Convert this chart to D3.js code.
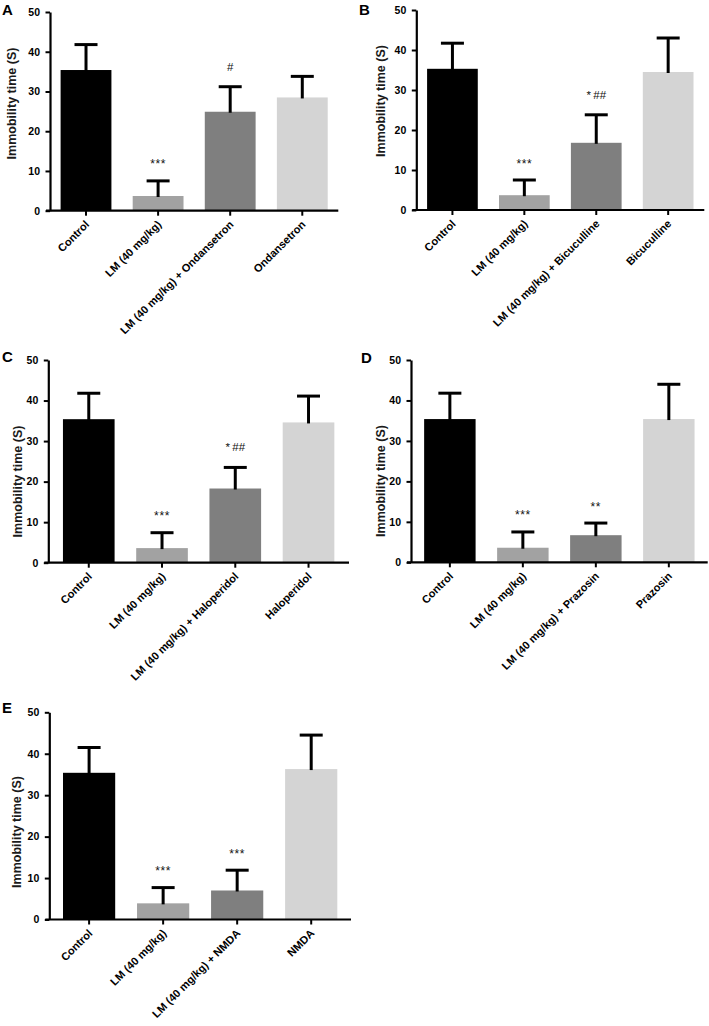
<!DOCTYPE html>
<html>
<head>
<meta charset="utf-8">
<script src="https://cdn.jsdelivr.net/npm/d3@7"></script>
<style>
  html, body { margin: 0; padding: 0; background: #fff; }
  svg { display: block; font-family: "Liberation Sans", Arial, sans-serif; }
</style>
</head>
<body>
<svg id="chart" width="709" height="1026"></svg>
<script>
// ---------- data ----------
const panelLetters = ["A", "B", "C", "D", "E"];
const drugs = ["Ondansetron", "Bicuculline", "Haloperidol", "Prazosin", "NMDA"];
const yTicks = [0, 10, 20, 30, 40, 50];

const meansA = [35.4, 3.7, 24.9, 28.5];
const errA   = [6.4, 3.8, 6.3, 5.3];
const annotA = ["", "***", "#", ""];

const meansB = [35.3, 3.7, 16.8, 34.5];
const errB   = [6.4, 3.8, 7.0, 8.5];
const annotB = ["", "***", "*\u2009##", ""];

const meansC = [35.4, 3.6, 18.3, 34.6];
const errC   = [6.4, 3.8, 5.2, 6.5];
const annotC = ["", "***", "*\u2009##", ""];

const meansD = [35.4, 3.6, 6.7, 35.4];
const errD   = [6.4, 3.9, 3.0, 8.6];
const annotD = ["", "***", "**", ""];

const meansE = [35.4, 3.9, 7.0, 36.3];
const errE   = [6.1, 3.8, 4.9, 8.2];
const annotE = ["", "***", "***", ""];

const barColors = ["#000000", "#a2a2a2", "#7f7f7f", "#d4d4d4"];

function categoriesFor(drug) {
  return ["Control", "LM (40 mg/kg)", "LM (40 mg/kg) + " + drug, drug];
}

// ---------- layout (positions only) ----------
const layout = [
  { x0: 50,    x1: 338.3, yTop: 12,    yBot: 210.7, po: 0.147, titleX: 16,  titleY: 103.5, letterX: 2,   letterY: 15 },
  { x0: 416.3, x1: 704.3, yTop: 10,    yBot: 210,   po: 0.15,  titleX: 385, titleY: 101,   letterX: 359, letterY: 15 },
  { x0: 48.3,  x1: 349,   yTop: 360,   yBot: 562.7, po: 0.2,   titleX: 22,  titleY: 481.5, letterX: 2,   letterY: 362 },
  { x0: 411,   x1: 707.7, yTop: 360,   yBot: 562.3, po: 0.18,  titleX: 385, titleY: 481,   letterX: 361, letterY: 362.5 },
  { x0: 49.3,  x1: 351,   yTop: 712.3, yBot: 919.5, po: 0.185, titleX: 21,  titleY: 832,   letterX: 2,   letterY: 712.5 }
];

const panelMeans = [meansA, meansB, meansC, meansD, meansE];
const panelErrs  = [errA, errB, errC, errD, errE];
const panelAnnot = [annotA, annotB, annotC, annotD, annotE];

const svg = d3.select("#chart");

panelLetters.forEach((letter, i) => {
  const L = layout[i];
  const cats = categoriesFor(drugs[i]);
  const rows = cats.map((c, k) => ({ cat: c, mean: panelMeans[i][k], err: panelErrs[i][k], ann: panelAnnot[i][k], color: barColors[k] }));

  const x = d3.scaleBand().domain(cats).range([L.x0, L.x1]).paddingInner(0.295).paddingOuter(L.po);
  const y = d3.scaleLinear().domain([0, 50]).range([L.yBot, L.yTop]);

  const g = svg.append("g");

  // bars
  g.selectAll("rect.bar").data(rows).join("rect")
    .attr("class", "bar")
    .attr("x", d => x(d.cat))
    .attr("width", x.bandwidth())
    .attr("y", d => y(d.mean))
    .attr("height", d => y(0) - y(d.mean))
    .attr("fill", d => d.color);

  // error bars (upper only)
  const capW = 23;
  g.selectAll("line.stem").data(rows).join("line")
    .attr("x1", d => x(d.cat) + x.bandwidth() / 2)
    .attr("x2", d => x(d.cat) + x.bandwidth() / 2)
    .attr("y1", d => y(d.mean) + 1)
    .attr("y2", d => y(d.mean + d.err))
    .attr("stroke", "#000").attr("stroke-width", 3);
  g.selectAll("line.cap").data(rows).join("line")
    .attr("x1", d => x(d.cat) + x.bandwidth() / 2 - capW / 2)
    .attr("x2", d => x(d.cat) + x.bandwidth() / 2 + capW / 2)
    .attr("y1", d => y(d.mean + d.err))
    .attr("y2", d => y(d.mean + d.err))
    .attr("stroke", "#000").attr("stroke-width", 3);

  // significance marks
  g.selectAll("text.ann").data(rows.filter(d => d.ann)).join("text")
    .attr("x", d => x(d.cat) + x.bandwidth() / 2)
    .attr("y", d => y(d.mean + d.err) - (d.ann.includes("#") ? 16 : 12.5))
    .attr("text-anchor", "middle")
    .attr("font-size", d => d.ann.includes("#") ? 11.5 : 12)
    .attr("letter-spacing", d => d.ann.includes("#") ? 0 : 0.6)
    .attr("fill", "#111")
    .text(d => d.ann);

  // y axis
  const yAxis = g.append("g")
    .attr("transform", `translate(${L.x0},0)`)
    .call(d3.axisLeft(y).tickValues(yTicks).tickSize(4.5).tickSizeOuter(0).tickPadding(5.5));
  yAxis.select(".domain").attr("stroke", "#000").attr("stroke-width", 2.2);
  yAxis.selectAll(".tick line").attr("stroke", "#000").attr("stroke-width", 2);
  yAxis.selectAll(".tick text")
    .attr("font-family", "Liberation Sans, Arial, sans-serif")
    .attr("font-size", 10.5).attr("font-weight", "bold").attr("fill", "#000");

  // x axis
  const xAxis = g.append("g")
    .attr("transform", `translate(0,${L.yBot})`)
    .call(d3.axisBottom(x).tickSize(5).tickSizeOuter(0));
  xAxis.select(".domain").attr("stroke", "#000").attr("stroke-width", 2.2)
    .attr("d", `M${L.x0 - 4},0H${L.x1}`);
  xAxis.selectAll(".tick line").attr("stroke", "#000").attr("stroke-width", 2);
  xAxis.selectAll(".tick text")
    .attr("x", 0).attr("y", 0).attr("dy", 0)
    .attr("transform", "translate(4,14.5) rotate(-45)")
    .attr("text-anchor", "end")
    .attr("font-family", "Liberation Sans, Arial, sans-serif")
    .attr("font-size", 11).attr("font-weight", "bold").attr("fill", "#000");

  // y title
  g.append("text")
    .attr("transform", `translate(${L.titleX},${L.titleY}) rotate(-90)`)
    .attr("text-anchor", "middle")
    .attr("font-size", 12.5).attr("font-weight", "bold").attr("fill", "#1a1a1a")
    .text("Immobility time (S)");

  // panel letter
  g.append("text")
    .attr("x", L.letterX).attr("y", L.letterY)
    .attr("font-size", 15).attr("font-weight", "bold").attr("fill", "#000")
    .text(letter);
});
</script>
</body>
</html>
